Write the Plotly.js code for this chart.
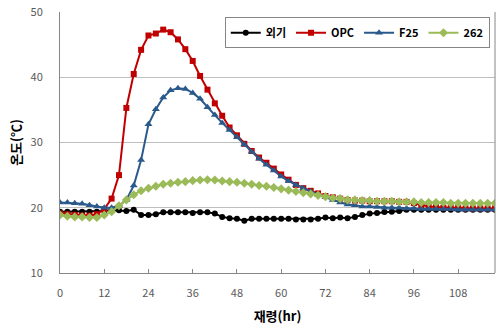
<!DOCTYPE html>
<html>
<head>
<meta charset="utf-8">
<script src="https://cdn.plot.ly/plotly-3.0.1.min.js"></script>
<style>html,body{margin:0;padding:0;background:#fff;}#chart{width:499px;height:330px;}</style>
</head>
<body>
<div id="chart"></div>
<script>
// hours (every 2 hr, 0..118)
var hours = [];
for (var h = 0; h <= 118; h += 2) hours.push(h);

var seriesNames = ["외기", "OPC", "F25", "262"];

var outside = [19.4,19.4,19.4,19.4,19.4,19.4,19.5,19.6,19.6,19.5,19.7,18.9,18.9,19.0,19.3,19.3,19.3,19.3,19.2,19.3,
               19.3,19.1,18.6,18.4,18.3,18.0,18.3,18.3,18.3,18.3,18.3,18.3,18.2,18.2,18.2,18.3,18.5,18.4,18.5,18.4,
               18.6,18.9,19.1,19.2,19.35,19.4,19.5,19.7,19.7,19.7,19.7,19.7,19.7,19.7,19.7,19.7,19.7,19.7,19.7,19.7];

var opc = [19.1,19.0,18.9,18.8,18.8,19.0,19.8,21.4,25.0,35.3,40.5,44.2,46.4,46.7,47.3,46.9,45.8,44.3,42.5,40.2,
           38.1,36.0,34.1,32.3,31.1,29.8,28.7,27.7,26.9,26.0,25.1,24.3,23.5,23.0,22.6,22.2,21.8,21.6,21.4,21.2,
           21.1,21.1,21.0,21.0,21.0,21.0,20.9,20.9,20.7,20.4,20.2,20.1,20.0,20.0,20.0,19.9,19.9,19.9,19.9,19.9];

var f25 = [20.8,20.8,20.7,20.6,20.4,20.2,20.0,20.0,20.3,21.2,23.4,27.3,32.8,35.1,36.9,38.0,38.3,38.2,37.6,36.7,
           35.4,34.2,33.0,31.9,30.8,29.7,28.6,27.5,26.6,25.7,24.8,24.1,23.5,23.0,22.5,22.0,21.6,21.2,20.8,20.5,
           20.4,20.2,20.2,20.1,20.0,20.0,20.0,19.9,19.9,19.8,19.8,19.8,19.8,19.8,19.7,19.7,19.7,19.7,19.7,19.7];

var s262 = [18.9,18.7,18.6,18.6,18.5,18.5,18.9,19.4,20.3,21.2,22.0,22.6,23.0,23.3,23.6,23.75,23.9,24.0,24.15,24.25,
            24.3,24.25,24.1,24.0,23.9,23.75,23.6,23.4,23.3,23.1,22.9,22.7,22.5,22.3,22.1,21.9,21.7,21.5,21.4,21.2,
            21.2,21.1,21.1,21.0,21.0,21.0,20.9,20.9,20.9,20.8,20.8,20.8,20.8,20.7,20.7,20.7,20.7,20.7,20.7,20.7];

var xTicks = [0,12,24,36,48,60,72,84,96,108];
var yTicks = [10,20,30,40,50];

var kfont = '"Noto Sans CJK KR", "DejaVu Sans", sans-serif';

function mk(name, y, color, symbol, size) {
  return {
    x: hours, y: y, name: name, type: 'scatter', mode: 'lines+markers',
    line: {color: color, width: 2},
    marker: {color: color, symbol: symbol, size: size}
  };
}

var data = [
  mk(seriesNames[0], outside, '#000000', 'circle', 6),
  mk(seriesNames[1], opc, '#C00000', 'square', 6),
  mk(seriesNames[2], f25, '#2A5A8C', 'triangle-up', 7),
  mk(seriesNames[3], s262, '#9BBB59', 'diamond', 7)
];

var layout = {
  width: 499, height: 330,
  margin: {l: 60, r: 4, t: 12, b: 57},
  paper_bgcolor: '#ffffff', plot_bgcolor: '#ffffff',
  font: {family: kfont, size: 11, color: '#595959'},
  showlegend: true,
  legend: {
    orientation: 'h', x: 0.988, y: 0.98, xanchor: 'right', yanchor: 'top',
    bordercolor: '#868686', borderwidth: 1, bgcolor: '#ffffff',
    font: {family: kfont, size: 11, color: '#000000', weight: 'bold'},
    itemwidth: 30, tracegroupgap: 0
  },
  xaxis: {
    range: [0, 118], tickmode: 'array', tickvals: xTicks, ticktext: xTicks.map(String),
    showgrid: false, zeroline: false,
    showline: true, linecolor: '#868686', linewidth: 1,
    ticks: 'inside', ticklen: 4, tickcolor: '#868686',
    ticklabelstandoff: 10,
    tickfont: {family: kfont, size: 11, color: '#595959'},
    title: {text: '재령(hr)', font: {family: kfont, size: 13, color: '#000000', weight: 'bold'}, standoff: 12}
  },
  yaxis: {
    range: [10, 50], tickmode: 'array', tickvals: yTicks, ticktext: yTicks.map(String),
    showgrid: true, gridcolor: '#BEBEBE', gridwidth: 1, zeroline: false,
    showline: true, linecolor: '#868686', linewidth: 1,
    ticks: '', ticklabelstandoff: 14,
    tickfont: {family: kfont, size: 11, color: '#595959'},
    title: {text: '온도(℃)', font: {family: kfont, size: 13, color: '#000000', weight: 'bold'}, standoff: 6}
  },
  shapes: [
    {type: 'line', xref: 'paper', yref: 'paper', x0: 1, x1: 1, y0: 0, y1: 1, line: {color: '#868686', width: 1}}
  ]
};

Plotly.newPlot('chart', data, layout, {displayModeBar: false, staticPlot: true});
</script>
</body>
</html>
